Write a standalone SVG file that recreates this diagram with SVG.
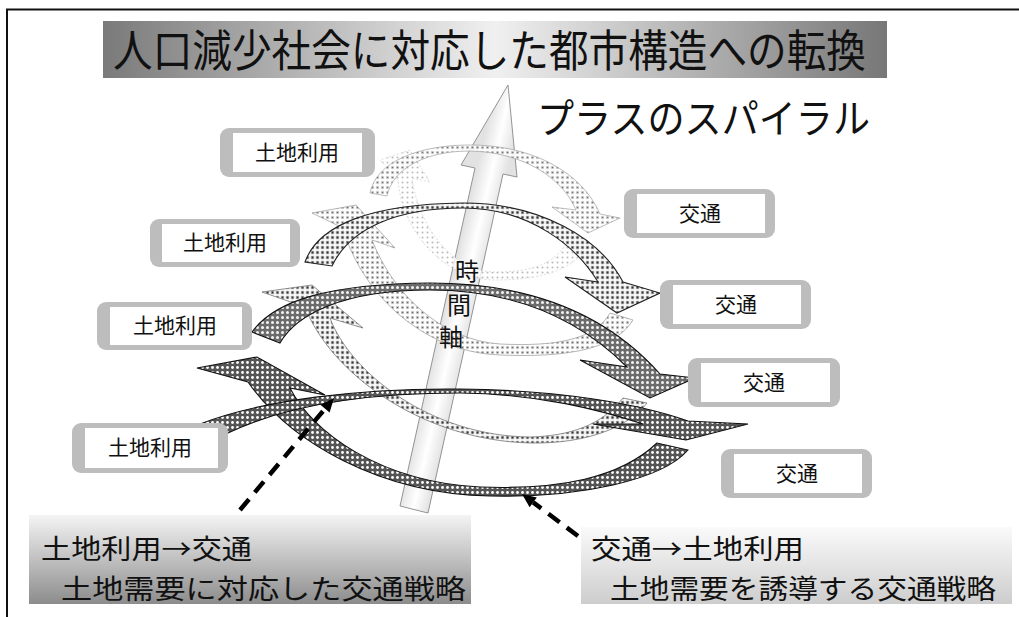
<svg xmlns="http://www.w3.org/2000/svg" width="1019" height="617" viewBox="0 0 1019 617">
<style>
text{font-family:'Noto Sans CJK JP','Noto Sans CJK SC',sans-serif;fill:#111}
.lbl{font-size:21px;text-anchor:middle}
.box{fill:#bdbdbd}
.inner{fill:#fff}
.bt{font-size:27px}
.a4{fill:url(#p4);stroke:#111;stroke-width:1.1}
.a3{fill:url(#p3);stroke:#111;stroke-width:1.1}
.a3b{fill:url(#p2);stroke:#777;stroke-width:0.8}
.a2{fill:url(#p2);stroke:#222;stroke-width:1.1}
.a2b{fill:url(#p1);stroke:#999;stroke-width:0.7}
.a1{fill:url(#p1);stroke:#999;stroke-width:0.7;opacity:0.9}
.a1b{fill:url(#p0);stroke:#bbb;stroke-width:0.6;stroke-dasharray:2 2;opacity:0.8}
.dash{stroke:#000;stroke-width:4.5;stroke-dasharray:14 9;fill:none}
.ax{font-size:24px;text-anchor:middle}
</style>
<defs>
<linearGradient id="gTitle" x1="0" y1="0" x2="1" y2="0">
<stop offset="0" stop-color="#7a7a7a"/><stop offset="0.5" stop-color="#f0f0f0"/><stop offset="1" stop-color="#777"/>
</linearGradient>
<linearGradient id="gL" x1="0" y1="0" x2="0" y2="1">
<stop offset="0" stop-color="#f4f4f4"/><stop offset="1" stop-color="#8c8c8c"/>
</linearGradient>
<linearGradient id="gR" x1="0" y1="0" x2="0" y2="1">
<stop offset="0" stop-color="#fafafa"/><stop offset="1" stop-color="#cdcdcd"/>
</linearGradient>
<linearGradient id="gAx" gradientUnits="userSpaceOnUse" x1="446" y1="300" x2="476" y2="307">
<stop offset="0" stop-color="#e2e2e2"/><stop offset="0.5" stop-color="#ffffff"/><stop offset="1" stop-color="#e2e2e2"/>
</linearGradient>
<pattern id="p4" width="5" height="5" patternUnits="userSpaceOnUse">
<rect width="5" height="5" fill="#555"/><circle cx="2.5" cy="2.5" r="1.4" fill="#fff"/>
</pattern>
<pattern id="p3" width="5" height="5" patternUnits="userSpaceOnUse">
<rect width="5" height="5" fill="#6c6c6c"/><circle cx="2.5" cy="2.5" r="1.5" fill="#f4f4f4"/>
</pattern>
<pattern id="p2" width="5" height="5" patternUnits="userSpaceOnUse">
<rect width="5" height="5" fill="#fff"/><rect x="0.8" y="0.8" width="3.4" height="3.4" fill="#a4a4a4"/><circle cx="2.5" cy="2.5" r="0.9" fill="#333"/>
</pattern>
<pattern id="p1" width="5" height="5" patternUnits="userSpaceOnUse">
<rect width="5" height="5" fill="#fff"/><rect x="0.9" y="0.9" width="3.2" height="3.2" fill="#cfcfcf"/><circle cx="2.5" cy="2.5" r="0.8" fill="#666"/>
</pattern>
<pattern id="p0" width="5" height="5" patternUnits="userSpaceOnUse">
<rect width="5" height="5" fill="#fff"/><circle cx="2.5" cy="2.5" r="1" fill="#aaa"/>
</pattern>
</defs>
<rect width="1019" height="617" fill="#fff"/>
<path d="M7,617 V9.5 H1019" stroke="#111" stroke-width="2" fill="none"/>

<g id="title">
<rect x="103" y="21" width="784" height="57" fill="url(#gTitle)"/>
<text x="113" y="67" font-size="44" textLength="753" lengthAdjust="spacingAndGlyphs">人口減少社会に対応した都市構造への転換</text>
</g>
<g id="subtitle">
<text x="537" y="133" font-size="40" textLength="333" lengthAdjust="spacingAndGlyphs">プラスのスパイラル</text>
</g>

<g id="timeaxis">
<polygon points="400,506 428,513 503,174 517,177 508,85 461,165 475,168" fill="url(#gAx)" stroke="#888" stroke-width="0.9"/>
</g>

<g id="connectors">
<g id="level1">
<path class="a1b" d="M566,244 C552,266 528,272 495,272 C452,272 418,225 412,178 L430,182 L410,150 L380,160 L398,180 C402,232 445,280 495,280 C540,280 572,270 584,250 Z"/>
<path class="a1" d="M370,193 C376,162 418,145 470,145 C532,145 582,172 600,214 L620,218 L588,233 L552,207 L576,210 C562,177 522,152 470,151 C426,151 393,168 387,196 Z"/>
</g>
<g id="level2">
<path class="a2b" d="M610,313 C596,338 560,347 500,344 C440,340 392,292 372,240 L395,248 L356,205 L312,213 L343,228 C360,290 420,352 500,355 C570,358 616,348 633,320 Z"/>
<path class="a2" d="M305,262 C318,226 368,204 463,203 C540,203 600,238 623,282 L660,293 L617,313 L565,277 L598,282 C577,247 530,208 463,208 C398,208 350,228 332,266 Z"/>
</g>
<g id="level3">
<path class="a3b" d="M623,398 C602,425 570,436 530,437 C430,436 350,372 330,318 L363,328 L312,285 L262,292 L305,307 C330,372 420,440 530,443 C585,444 628,428 647,403 Z"/>
<path class="a3" d="M252,332 C275,300 330,284 430,283 C540,283 612,320 660,374 L695,378 L650,398 L580,360 L627,367 C590,330 530,290 430,290 C342,290 296,315 280,343 Z"/>
</g>
<g id="level4">
<path class="a4" d="M657,443 C620,478 560,490 480,487 C380,482 312,432 290,388 L325,395 L257,357 L197,368 L248,382 C290,442 380,494 490,496 C580,498 662,480 688,450 Z"/>
<path class="a4" d="M200,424 C262,400 360,388 460,389 C560,390 640,404 688,421 L748,424 L686,440 L593,424 L643,424 C600,410 540,394 460,393 C362,393 282,407 228,433 Z"/>
</g>
<g id="dashed">
<line class="dash" x1="240" y1="510" x2="325" y2="408.7"/>
<polygon points="334,398 329.6,412.6 320.4,404.8" fill="#000"/>
<line class="dash" x1="578" y1="536" x2="533.2" y2="502.4"/>
<polygon points="522,494 536.8,497.6 529.6,507.2" fill="#000"/>
</g>
</g>

<g id="axislabel">
<text class="ax" x="467" y="280">時</text>
<text class="ax" x="459" y="314">間</text>
<text class="ax" x="451" y="346">軸</text>
</g>

<g id="land1"><rect class="box" x="220" y="128" width="155" height="49" rx="9"/><rect class="inner" x="233" y="133" width="129" height="39"/><text class="lbl" x="297" y="160">土地利用</text></g>
<g id="land2"><rect class="box" x="150" y="219" width="150" height="48" rx="9"/><rect class="inner" x="162" y="224" width="128" height="38"/><text class="lbl" x="225" y="250">土地利用</text></g>
<g id="land3"><rect class="box" x="97" y="302" width="155" height="48" rx="9"/><rect class="inner" x="110" y="307" width="132" height="38"/><text class="lbl" x="175" y="333">土地利用</text></g>
<g id="land4"><rect class="box" x="72" y="423" width="156" height="50" rx="9"/><rect class="inner" x="85" y="428" width="133" height="40"/><text class="lbl" x="150" y="455">土地利用</text></g>

<g id="traffic1"><rect class="box" x="624" y="189" width="151" height="49" rx="9"/><rect class="inner" x="637" y="194" width="128" height="39"/><text class="lbl" x="700" y="221">交通</text></g>
<g id="traffic2"><rect class="box" x="660" y="280" width="151" height="49" rx="9"/><rect class="inner" x="673" y="285" width="128" height="39"/><text class="lbl" x="736" y="312">交通</text></g>
<g id="traffic3"><rect class="box" x="688" y="358" width="152" height="49" rx="9"/><rect class="inner" x="701" y="363" width="129" height="39"/><text class="lbl" x="764" y="390">交通</text></g>
<g id="traffic4"><rect class="box" x="721" y="449" width="151" height="49" rx="9"/><rect class="inner" x="734" y="454" width="128" height="39"/><text class="lbl" x="797" y="481">交通</text></g>

<g id="note-left">
<rect x="29" y="515" width="442" height="89" fill="url(#gL)"/>
<text class="bt" x="41" y="559" textLength="211" lengthAdjust="spacingAndGlyphs">土地利用→交通</text>
<text class="bt" x="61" y="599" textLength="405" lengthAdjust="spacingAndGlyphs">土地需要に対応した交通戦略</text>
</g>
<g id="note-right">
<rect x="581" y="527" width="431" height="77" fill="url(#gR)"/>
<text class="bt" x="591" y="559" textLength="213" lengthAdjust="spacingAndGlyphs">交通→土地利用</text>
<text class="bt" x="610" y="599" textLength="386" lengthAdjust="spacingAndGlyphs">土地需要を誘導する交通戦略</text>
</g>
</svg>
